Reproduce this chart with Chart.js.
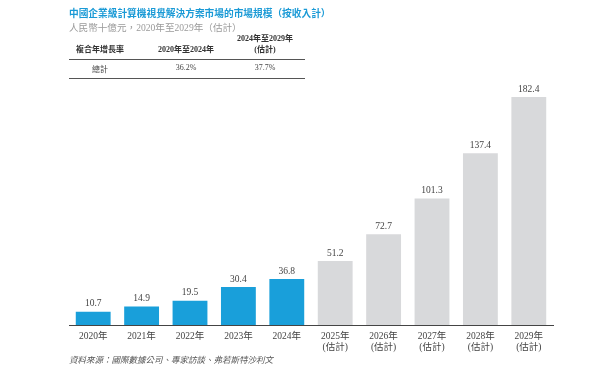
<!DOCTYPE html>
<html><head><meta charset="utf-8">
<script src="https://cdn.jsdelivr.net/npm/chart.js@4"></script>
<style>
html,body{margin:0;padding:0;background:#fff;width:608px;height:379px;overflow:hidden;}
#wrap{position:relative;width:608px;height:379px;}
canvas{position:absolute;left:0;top:0;}
.t{position:absolute;font-family:"Liberation Serif","Noto Sans CJK TC",serif;white-space:nowrap;}
.c{transform:translateX(-50%);text-align:center;}
.line{position:absolute;left:69px;width:236px;height:1px;background:#555;}
</style></head>
<body><div id="wrap">
<canvas id="c" width="608" height="379"></canvas>
<div class="t" style="left:69px;top:6px;font-size:9.7px;font-weight:bold;color:#1a9ad6;">中國企業級計算機視覺解決方案市場的市場規模（按收入計）</div>
<div class="t" style="left:69px;top:20px;font-size:9.6px;color:#9a9a9a;">人民幣十億元，2020年至2029年（估計）</div>
<div class="t c" style="left:100px;top:43px;font-size:8px;font-weight:bold;color:#333;">複合年增長率</div>
<div class="t c" style="left:186px;top:43px;font-size:8px;font-weight:bold;color:#333;">2020年至2024年</div>
<div class="t c" style="left:265px;top:33px;font-size:8px;font-weight:bold;color:#333;line-height:11px;">2024年至2029年<br>(估計)</div>
<div class="line" style="top:59px;"></div>
<div class="t c" style="left:100px;top:63px;font-size:8px;color:#444;">總計</div>
<div class="t c" style="left:186px;top:63px;font-size:8px;color:#444;" id="cagr1"></div>
<div class="t c" style="left:265px;top:63px;font-size:8px;color:#444;" id="cagr2"></div>
<div class="line" style="top:78px;"></div>
<div class="t" style="left:69px;top:353px;font-size:8.5px;font-style:italic;color:#555;">資料來源：國際數據公司、專家訪談、弗若斯特沙利文</div>
</div>
<script>
const categories = [["2020年"],["2021年"],["2022年"],["2023年"],["2024年"],["2025年","(估計)"],["2026年","(估計)"],["2027年","(估計)"],["2028年","(估計)"],["2029年","(估計)"]];
const marketSize = [10.7, 14.9, 19.5, 30.4, 36.8, 51.2, 72.7, 101.3, 137.4, 182.4];
const isForecast = [false,false,false,false,false,true,true,true,true,true];
const cagrLabels = ["36.2%", "37.7%"];
const valueLabels = ["10.7","14.9","19.5","30.4","36.8","51.2","72.7","101.3","137.4","182.4"];

document.getElementById('cagr1').textContent = cagrLabels[0];
document.getElementById('cagr2').textContent = cagrLabels[1];

const valuePlugin = {
  id: 'valueLabels',
  afterDatasetsDraw(chart) {
    const ctx = chart.ctx;
    const meta = chart.getDatasetMeta(0);
    ctx.save();
    ctx.font = '9.5px "Liberation Serif", serif';
    ctx.fillStyle = '#444';
    ctx.textAlign = 'center';
    ctx.textBaseline = 'bottom';
    meta.data.forEach((el, i) => {
      ctx.fillText(valueLabels[i], el.x, el.y - 3);
    });
    ctx.restore();
  }
};

new Chart(document.getElementById('c'), {
  type: 'bar',
  data: {
    labels: categories,
    datasets: [{
      data: marketSize,
      backgroundColor: isForecast.map(f => f ? '#d8d9db' : '#199fda'),
      barPercentage: 0.72,
      categoryPercentage: 1
    }]
  },
  options: {
    responsive: false,
    animation: false,
    layout: { padding: { top: 75, bottom: 24, left: 69, right: 55 } },
    plugins: { legend: { display: false }, tooltip: { enabled: false } },
    scales: {
      y: { display: false, min: 0, max: 200 },
      x: {
        grid: { display: false, drawTicks: false },
        border: { display: true, color: '#444', width: 1 },
        ticks: {
          padding: 6,
          color: '#444',
          font: { family: '"Liberation Serif", "Noto Sans CJK TC", serif', size: 9.5, lineHeight: 1.15 },
          maxRotation: 0, autoSkip: false
        },
        afterFit(scale) { scale.height = 30; }
      }
    }
  },
  plugins: [valuePlugin]
});
</script>
</body></html>
